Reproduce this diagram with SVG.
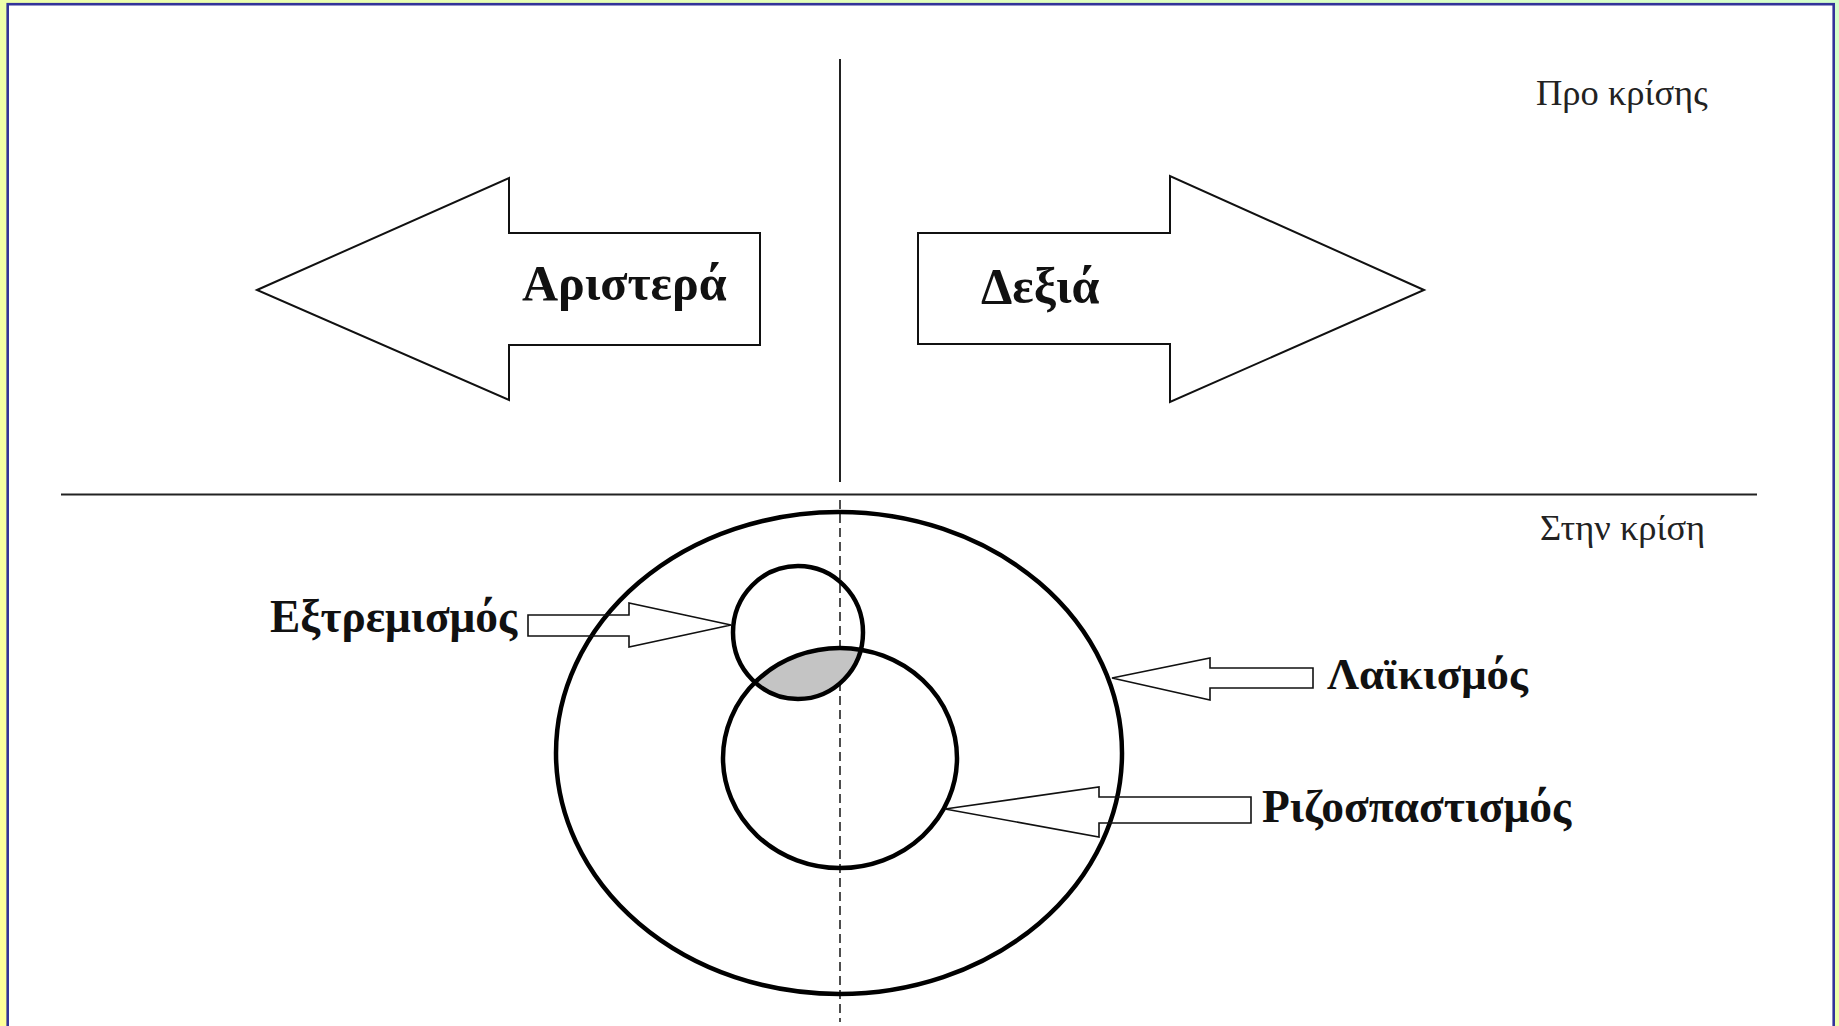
<svg xmlns="http://www.w3.org/2000/svg" width="1839" height="1026" viewBox="0 0 1839 1026">
<defs>
<linearGradient id="bg" x1="0" y1="1" x2="1" y2="0">
<stop offset="0" stop-color="#ffff99"/>
<stop offset="0.5" stop-color="#eeffaa"/>
<stop offset="1" stop-color="#d4ffcc"/>
</linearGradient>
<clipPath id="smallClip"><ellipse cx="798" cy="632.5" rx="65" ry="66.5"/></clipPath>
<style>
.bold{font-family:"Liberation Serif","Times New Roman",serif;font-weight:bold;fill:#111}
.reg{font-family:"Liberation Serif","Times New Roman",serif;fill:#222}
.arrow{fill:#fff;stroke:#111;stroke-width:2}
.thin{fill:none;stroke:#111;stroke-width:1.6}
.ring{fill:none;stroke:#000;stroke-width:4.5}
.line{stroke:#222;stroke-width:2;fill:none}
</style>
</defs>
<rect x="0" y="0" width="1839" height="1026" fill="url(#bg)"/>
<rect x="7.7" y="4.2" width="1826" height="1040" fill="#fff" stroke="#333399" stroke-width="2.6"/>

<g id="axes">
<line class="line" x1="840" y1="59" x2="840" y2="482"/>
<line class="line" x1="61" y1="494.5" x2="1757" y2="494.5"/>
<line x1="840" y1="500" x2="840" y2="1022" stroke="#222" stroke-width="1.6" stroke-dasharray="9,5"/>
</g>

<g id="label-pro">
<text class="reg" x="1536" y="105" font-size="36.5">Προ κρίσης</text>
</g>
<g id="label-stin">
<text class="reg" x="1540" y="540" font-size="36.5">Στην κρίση</text>
</g>

<g id="aristera">
<polygon class="arrow" points="257,290 509,178 509,233 760,233 760,345 509,345 509,400"/>
<text class="bold" x="522" y="300" font-size="50">Αριστερά</text>
</g>

<g id="dexia">
<polygon class="arrow" points="1424,290 1170,176 1170,233 918,233 918,344 1170,344 1170,402"/>
<text class="bold" x="981" y="303" font-size="50">Δεξιά</text>
</g>

<g id="outer">
<ellipse class="ring" cx="839" cy="753" rx="283" ry="241"/>
</g>

<g id="intersection">
<ellipse cx="840" cy="758" rx="117" ry="110" fill="#c4c4c4" clip-path="url(#smallClip)"/>
</g>

<g id="medium">
<ellipse class="ring" cx="840" cy="758" rx="117" ry="110" stroke-width="4"/>
</g>

<g id="small">
<ellipse class="ring" cx="798" cy="632.5" rx="65" ry="66.5" stroke-width="4"/>
</g>

<g id="connectors">
<polygon class="thin" fill="#fff" points="731,625 629,603 629,615 528,615 528,636 629,636 629,647"/>
<polygon class="thin" points="1112,678 1210,658 1210,668 1313,668 1313,688 1210,688 1210,700"/>
<polygon class="thin" points="945,809 1099,787 1099,797 1251,797 1251,823 1099,823 1099,837"/>
</g>

<g id="extremismos">
<text class="bold" x="270" y="632" font-size="45.4">Εξτρεμισμός</text>
</g>
<g id="laikismos">
<text class="bold" x="1327" y="689" font-size="44.8">Λαϊκισμός</text>
</g>
<g id="rizospastismos">
<text class="bold" x="1262" y="822" font-size="45.5">Ριζοσπαστισμός</text>
</g>
</svg>
